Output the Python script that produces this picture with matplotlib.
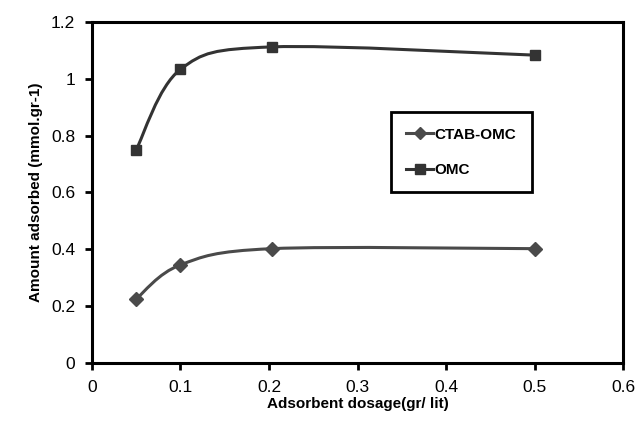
import matplotlib.pyplot as plt
import numpy as np
from matplotlib.path import Path
from matplotlib.patches import PathPatch
from matplotlib.lines import Line2D

plt.rcParams['font.family'] = ['Liberation Sans', 'DejaVu Sans']

dosage = [0.05, 0.1, 0.203, 0.5]
ctab_omc = [0.225, 0.345, 0.402, 0.402]
omc = [0.75, 1.033, 1.112, 1.083]


def smooth_path(x, y):
    # excel-like smoothed line: cubic bezier segments through the points
    p = np.column_stack([x, y])
    verts = [p[0]]
    codes = [Path.MOVETO]
    n = len(p)
    for i in range(n - 1):
        p0 = p[i - 1] if i > 0 else p[i]
        p3 = p[i + 2] if i + 2 < n else p[i + 1]
        c1 = p[i] + (p[i + 1] - p0) / 6
        c2 = p[i + 1] - (p3 - p[i]) / 6
        verts += [c1, c2, p[i + 1]]
        codes += [Path.CURVE4] * 3
    return Path(verts, codes)


fig, ax = plt.subplots(figsize=(6.38, 4.21), dpi=100)
fig.subplots_adjust(left=0.144, right=0.977, bottom=0.138, top=0.948)

series = [
    ('CTAB-OMC', ctab_omc, 'D', 7.5, '#4a4a4a'),
    ('OMC', omc, 's', 7.5, '#333333'),
]
handles = []
for name, vals, mk, ms, col in series:
    ax.add_patch(PathPatch(smooth_path(dosage, vals), fill=False, edgecolor=col, lw=2.2))
    ax.plot(dosage, vals, ls='none', marker=mk, ms=ms, color=col)
    handles.append(Line2D([], [], color=col, lw=2.2, marker=mk, ms=ms - 1))

ax.set_xlim(0, 0.6)
ax.set_ylim(0, 1.2)
ax.set_xticks(np.arange(0, 0.61, 0.1))
ax.set_xticklabels(['0', '0.1', '0.2', '0.3', '0.4', '0.5', '0.6'])
ax.set_yticks(np.arange(0, 1.21, 0.2))
ax.set_yticklabels(['0', '0.2', '0.4', '0.6', '0.8', '1', '1.2'])
ax.tick_params(direction='out', length=5, width=2, labelsize=12.5, pad=7)
for s in ax.spines.values():
    s.set_linewidth(2.2)

ax.set_xlabel('Adsorbent dosage(gr/ lit)', fontsize=11, fontweight='bold', labelpad=2)
ax.set_ylabel('Amount adsorbed (mmol.gr-1)', fontsize=11, fontweight='bold', labelpad=6)

leg = ax.legend(handles, ['CTAB-OMC', 'OMC'], loc='upper left',
                bbox_to_anchor=(0.562, 0.735), fancybox=False, framealpha=1,
                edgecolor='black', handlelength=1.8, handletextpad=0.1,
                prop={'weight': 'bold', 'size': 11}, borderpad=1.0,
                labelspacing=1.4, borderaxespad=0)
leg.get_frame().set_linewidth(2)

plt.savefig('out.png')
